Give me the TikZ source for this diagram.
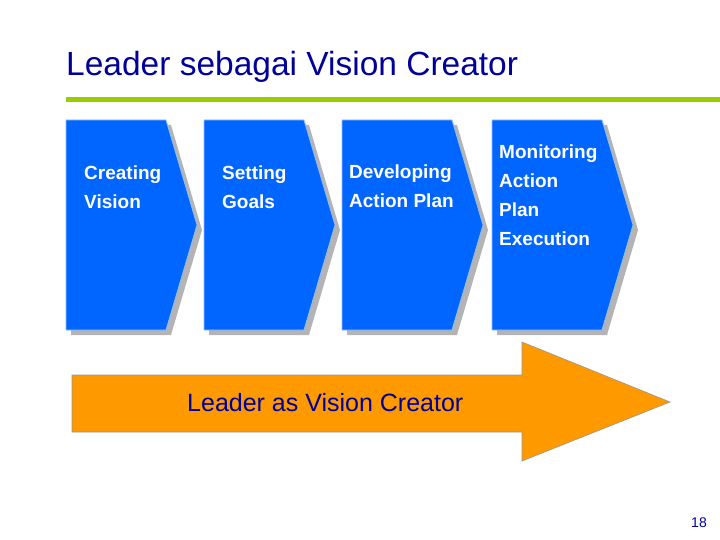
\documentclass[tikz,border=0pt]{standalone}
\usepackage{fontspec}
\setmainfont{Liberation Sans}
\definecolor{cblue}{RGB}{0,102,255}
\definecolor{cedge}{RGB}{150,190,255}
\definecolor{cshad}{RGB}{180,180,180}
\definecolor{cnavy}{RGB}{0,0,153}
\definecolor{cgreen}{RGB}{153,204,0}
\definecolor{corange}{RGB}{255,153,0}
\definecolor{cgray}{RGB}{150,150,150}
\begin{document}
\begin{tikzpicture}[x=1pt,y=-1pt,
  chev/.style={fill=cblue,draw=cedge,line width=0.8pt},
  shad/.style={fill=cshad},
  lbl/.style={text=white,font=\bfseries\fontsize{19}{29}\selectfont,align=left,anchor=north west,inner sep=0pt}]
\useasboundingbox (0,0) rectangle (720,540);
\node[anchor=west,inner sep=0pt,font=\fontsize{33.5}{38}\selectfont,text=cnavy] (title) at (66,67) {Leader sebagai Vision Creator};
\fill[cgreen] (66,97) rectangle (720,102);
\foreach \l/\w in {66/100,204/100,342/110,492/110}{
  \fill[shad] (\l+5,125) -- (\l+\w+5,125) -- (\l+\w+36,230) -- (\l+\w+5,335) -- (\l+5,335) -- cycle;
  \draw[chev] (\l,120) -- (\l+\w,120) -- (\l+\w+31,225) -- (\l+\w,330) -- (\l,330) -- cycle;
}
\node[lbl] (ta) at (84,166) {Creating\\Vision};
\node[lbl] (tb) at (222,166) {Setting\\Goals};
\node[lbl] (tc) at (349,165) {Developing\\Action Plan};
\node[lbl] (td) at (499,145) {Monitoring\\Action\\Plan\\Execution};
\draw[fill=corange,draw=cgray,line width=0.6pt]
  (72,375) -- (522,375) -- (522,342) -- (670,402) -- (522,461) -- (522,432) -- (72,432) -- cycle;
\node[anchor=west,inner sep=0pt,font=\fontsize{25}{29}\selectfont,text=cnavy] (arr) at (187,403) {Leader as Vision Creator};
\node[anchor=east,inner sep=0pt,font=\fontsize{14}{16}\selectfont,text=cnavy] (pg) at (707,523) {18};
\end{tikzpicture}
\end{document}
